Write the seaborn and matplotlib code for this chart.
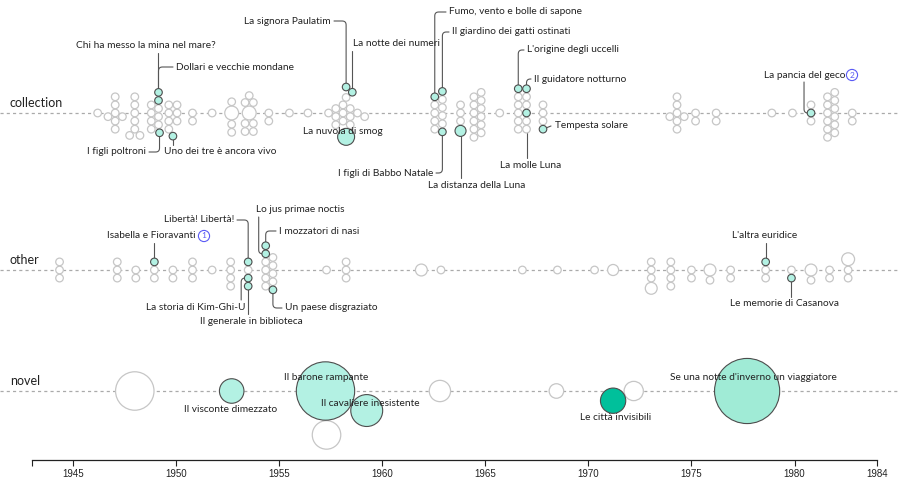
import numpy as np
import pandas as pd
import matplotlib
matplotlib.use("Agg")
import matplotlib.pyplot as plt
import seaborn as sns

# ---------------------------------------------------------------- data
# one entry per work: year (decimal), length (pages), title ('' = not highlighted)
collection_year = [
    1946.2,
    1947.05, 1947.05, 1947.05, 1947.05, 1947.05, 1946.7, 1947.4,
    1948.0, 1948.0, 1948.0, 1948.0, 1948.0, 1947.75, 1948.25,
    1948.8, 1948.8, 1948.8, 1948.8, 1949.15, 1949.15, 1949.15, 1949.2, 1949.15, 1949.15,
    1949.65, 1949.65, 1949.65, 1949.65, 1950.05, 1950.05, 1950.05, 1949.85,
    1950.8, 1950.8, 1951.75,
    1952.7, 1952.7, 1952.7, 1952.7,
    1953.55, 1953.35, 1953.35, 1953.35, 1953.75, 1953.75, 1953.75, 1953.55,
    1954.5, 1954.5, 1955.5, 1956.4,
    1957.4, 1957.75, 1957.75, 1957.75, 1958.1, 1958.1, 1958.1, 1958.45, 1958.45, 1958.45, 1958.8, 1959.15,
    1958.25, 1958.25, 1958.55, 1958.25,
    1962.55, 1962.55, 1962.55, 1962.55, 1962.92, 1962.92, 1962.92, 1962.92, 1962.92, 1962.92, 1962.55,
    1963.8, 1963.8, 1963.8, 1963.8,
    1964.45, 1964.8, 1964.45, 1964.8, 1964.45, 1964.8, 1964.45, 1964.8, 1964.45, 1964.8, 1964.45, 1964.8,
    1965.7,
    1967.0, 1966.6, 1966.6, 1966.6, 1966.6, 1966.6, 1967.0, 1967.0, 1967.0, 1967.0, 1967.0, 1966.6,
    1967.8, 1967.8, 1967.8, 1967.8,
    1974.3, 1974.3, 1974.3, 1974.3, 1974.3, 1973.95, 1974.65,
    1975.2, 1975.2, 1976.2, 1976.2, 1978.9, 1979.9,
    1980.8, 1980.8, 1980.8,
    1981.6, 1981.95, 1981.6, 1981.95, 1981.6, 1981.95, 1981.6, 1981.95, 1981.6, 1981.95, 1981.6, 1981.95,
    1982.8, 1982.8]
collection_length = [
    9,
    9, 9, 9, 9, 9, 9, 9,
    9, 9, 9, 9, 9, 9, 9,
    9, 9, 9, 9, 9, 9, 9, 9, 9, 9,
    9, 9, 9, 9, 9, 9, 9, 9,
    9, 9, 9,
    30, 9, 9, 9,
    30, 9, 9, 9, 9, 9, 9, 9,
    9, 9, 9, 9,
    9, 9, 9, 9, 9, 9, 9, 9, 9, 9, 9, 9,
    45, 9, 9, 9,
    9, 9, 9, 9, 9, 9, 9, 9, 9, 9, 9,
    9, 9, 9, 19,
    9, 9, 9, 9, 9, 9, 9, 9, 9, 9, 9, 9,
    9,
    9, 9, 9, 9, 9, 9, 9, 9, 9, 9, 9, 9,
    9, 9, 9, 9,
    9, 9, 9, 9, 9, 9, 9,
    9, 9, 9, 9, 9, 9,
    9, 9, 9,
    9, 9, 9, 9, 9, 9, 9, 9, 9, 9, 9, 9,
    9, 9]
collection_title = [
    "",
    "", "", "", "", "", "", "",
    "", "", "", "", "", "", "",
    "", "", "", "", "", "", "", "I figli poltroni", "Dollari e vecchie mondane", "Chi ha messo la mina nel mare?",
    "", "", "", "", "", "", "", "Uno dei tre è ancora vivo",
    "", "", "",
    "", "", "", "",
    "", "", "", "", "", "", "", "",
    "", "", "", "",
    "", "", "", "", "", "", "", "", "", "", "", "",
    "La nuvola di smog", "", "La notte dei numeri", "La signora Paulatim",
    "", "", "", "", "", "", "", "", "I figli di Babbo Natale", "Il giardino dei gatti ostinati",
    "Fumo, vento e bolle di sapone",
    "", "", "", "La distanza della Luna",
    "", "", "", "", "", "", "", "", "", "", "", "",
    "",
    "La molle Luna", "", "", "", "", "", "", "", "", "", "Il guidatore notturno", "L'origine degli uccelli",
    "", "", "", "Tempesta solare",
    "", "", "", "", "", "", "",
    "", "", "", "", "", "",
    "La pancia del geco", "", "",
    "", "", "", "", "", "", "", "", "", "", "", "",
    "", ""]

other_year = [
    1944.35, 1944.35, 1944.35,
    1947.15, 1947.15, 1947.15, 1948.05, 1948.05,
    1948.95, 1948.95, 1948.95,
    1949.85, 1949.85, 1950.8, 1950.8, 1950.8, 1951.75,
    1952.65, 1952.65, 1952.65, 1952.65,
    1953.5, 1953.5, 1953.5, 1953.5,
    1954.35, 1954.7, 1954.35, 1954.7, 1954.35, 1954.7, 1954.35, 1954.7, 1954.7, 1954.35, 1954.35,
    1957.3, 1958.25, 1958.25, 1958.25,
    1961.9, 1962.85, 1966.8, 1968.5, 1970.3,
    1971.2, 1973.05, 1973.05, 1973.05, 1973.05,
    1974.0, 1974.0, 1974.0, 1974.0, 1975.0, 1975.0, 1975.9, 1975.9, 1976.9, 1976.9,
    1978.6, 1978.6, 1978.6, 1979.85, 1979.85,
    1980.8, 1980.8, 1981.7, 1981.7, 1982.6, 1982.6, 1982.6]
other_length = [
    9, 9, 9,
    9, 9, 9, 9, 9,
    9, 9, 9,
    9, 9, 9, 9, 9, 9,
    9, 9, 9, 9,
    9, 9, 9, 9,
    9, 9, 9, 9, 9, 9, 9, 9, 9, 9, 9,
    9, 9, 9, 9,
    22, 9, 9, 9, 9,
    19, 9, 9, 9, 22,
    9, 9, 9, 9, 9, 9, 22, 9, 9, 9,
    9, 9, 9, 9, 9,
    22, 9, 9, 9, 9, 9, 26]
other_title = [
    "", "", "",
    "", "", "", "", "",
    "", "", "Isabella e Fioravanti",
    "", "", "", "", "", "",
    "", "", "", "",
    "", "La storia di Kim-Ghi-U", "Il generale in biblioteca", "Libertà! Libertà!",
    "", "", "", "", "", "", "", "", "Un paese disgraziato", "Lo jus primae noctis", "I mozzatori di nasi",
    "", "", "", "",
    "", "", "", "", "",
    "", "", "", "", "",
    "", "", "", "", "", "", "", "", "", "",
    "", "", "L'altra euridice", "", "Le memorie di Casanova",
    "", "", "", "", "", "", ""]

novel_year = [1948.0, 1952.7, 1957.25, 1959.25, 1957.3, 1962.8, 1968.45, 1972.2, 1971.2, 1977.7]
novel_length = [231, 94, 532, 159, 127, 71, 33, 58, 100, 663]
novel_title = ["", "Il visconte dimezzato", "Il barone rampante", "Il cavaliere inesistente",
               "", "", "", "", "Le città invisibili", "Se una notte d'inverno un viaggiatore"]

tick_years = [1943, 1945, 1950, 1955, 1960, 1965, 1970, 1975, 1980, 1984]
tick_labels = ["", "1945", "1950", "1955", "1960", "1965", "1970", "1975", "1980", "1984"]

# ---------------------------------------------------------------- layout (pixels)
X0, PXY = 31.7, 20.617            # pixel of 1943, pixels per year
ROW_Y = {"collection": 113, "other": 270, "novel": 391}
GAP = 0.5

def yr2px(y):
    return X0 + (y - 1943) * PXY

def px2yr(p):
    return 1943 + (p - X0) / PXY

def radius(s):
    return 1.265 * np.sqrt(s)

# label text position (px), alignment, leader style
labels = {
    "Chi ha messo la mina nel mare?": (146, 46, "center", "v"),
    "Dollari e vecchie mondane": (176, 67, "left", "h"),
    "I figli poltroni": (146, 152, "right", "h"),
    "Uno dei tre è ancora vivo": (164, 152, "left", "v"),
    "La signora Paulatim": (331, 21, "right", "h"),
    "La notte dei numeri": (353, 44, "left", "v"),
    "La nuvola di smog": (343, 132, "center", "none"),
    "Fumo, vento e bolle di sapone": (449, 12, "left", "h"),
    "Il giardino dei gatti ostinati": (452, 32, "left", "h"),
    "I figli di Babbo Natale": (433, 173, "right", "h"),
    "La distanza della Luna": (477, 185, "center", "v"),
    "L'origine degli uccelli": (527, 50, "left", "h"),
    "Il guidatore notturno": (534, 79, "left", "h"),
    "La molle Luna": (531, 165, "center", "v"),
    "Tempesta solare": (555, 126, "left", "side"),
    "La pancia del geco": (764, 75, "left", "hv"),
    "Isabella e Fioravanti": (151, 236, "center", "v"),
    "Libertà! Libertà!": (234, 220, "right", "h"),
    "Lo jus primae noctis": (256, 210, "left", "hv"),
    "I mozzatori di nasi": (279, 231, "left", "h"),
    "La storia di Kim-Ghi-U": (245, 307, "right", "hv"),
    "Il generale in biblioteca": (251, 321, "center", "v"),
    "Un paese disgraziato": (285, 308, "left", "h"),
    "L'altra euridice": (765, 236, "center", "v"),
    "Le memorie di Casanova": (785, 304, "center", "v"),
    "Il visconte dimezzato": (231, 410, "center", "none"),
    "Il barone rampante": (326, 377, "center", "none"),
    "Il cavaliere inesistente": (370, 403, "center", "none"),
    "Le città invisibili": (616, 417, "center", "none"),
    "Se una notte d'inverno un viaggiatore": (753, 378, "center", "none"),
}
fills = {"Le città invisibili": "#00c09b", "Se una notte d'inverno un viaggiatore": "#a0ebd6"}
HL = "#b3f1e3"


def swarm(years, sizes, titles, cy):
    # greedy beeswarm in pixel space; labelled works lean towards their label
    placed, out = [], []
    for yr, s, t in zip(years, sizes, titles):
        x, r = yr2px(yr), radius(s)
        pref = np.sign(labels[t][1] - cy) if t else 0
        cands = [0.0]
        for px, py, pr in placed:
            d = r + pr + GAP
            dx = x - px
            if abs(dx) < d:
                h = np.sqrt(d * d - dx * dx)
                cands += [py + h, py - h]

        def cost(c):
            pen = 1000 if (pref != 0 and c * pref < -1e-9) else 0
            return abs(c) + pen + (0.001 if c < 0 else 0)

        best = 0.0
        for c in sorted(set(cands), key=cost):
            if all((x - px) ** 2 + (c - py) ** 2 >= (r + pr + GAP) ** 2 - 1e-6 for px, py, pr in placed):
                best = c
                break
        placed.append((x, best, r))
        out.append(dict(x=yr, y=cy + best, xp=x, r=r, s=(2 * r * 0.72) ** 2, title=t))
    return out

pts = []
pts += swarm(collection_year, collection_length, collection_title, ROW_Y["collection"])
pts += swarm(other_year, other_length, other_title, ROW_Y["other"])
pts += swarm(novel_year, novel_length, novel_title, ROW_Y["novel"])
df = pd.DataFrame(pts)
df["fill"] = [fills.get(t, HL) for t in df.title]
plain = df[df.title == ""]
hl = df[df.title != ""]

# ---------------------------------------------------------------- plot
sns.set_style("white")
plt.rcParams["font.family"] = ["Lato", "DejaVu Sans"]

fig = plt.figure(figsize=(9, 4.96), dpi=100)
ax = fig.add_axes([0, 36 / 496, 1, 460 / 496])

for name, y in ROW_Y.items():
    ax.axhline(y, color="#aaaaaa", lw=0.9, ls=(0, (2.5, 2.5)), zorder=0)
    ax.text(px2yr(10), y - 10, name, ha="left", va="center", fontsize=9, color="#222222")

sns.scatterplot(data=plain, x="x", y="y", s=plain["s"].values, color="white",
                edgecolor="#c6c6c6", linewidth=0.9, legend=False, ax=ax, zorder=3)
sns.scatterplot(data=hl, x="x", y="y", hue="fill", palette={c: c for c in hl["fill"].unique()},
                s=hl["s"].values, edgecolor="#4d4d4d", linewidth=0.8, legend=False, ax=ax, zorder=4)


def rounded(p0, c, p1, r=4):
    p0, c, p1 = np.array(p0, float), np.array(c, float), np.array(p1, float)
    d0, d1 = p0 - c, p1 - c
    n0, n1 = np.linalg.norm(d0), np.linalg.norm(d1)
    if n0 < 1e-6 or n1 < 1e-6:
        return np.array([p0, p1])
    r = min(r, n0, n1)
    a, b = c + d0 / n0 * r, c + d1 / n1 * r
    t = np.linspace(0, 1, 8)[:, None]
    curve = (1 - t) ** 2 * a + 2 * (1 - t) * t * c + t ** 2 * b
    return np.vstack([p0, curve, p1])


for _, p in hl.iterrows():
    tx, ty, ha, mode = labels[p.title]
    cx, cy = p.xp, p.y
    path = None
    if mode == "h":
        end = tx + 3 if ha == "right" else tx - 3
        path = rounded((cx, cy), (cx, ty), (end, ty))
    elif mode == "v":
        end = ty + 7 if ty < cy else ty - 7
        path = np.array([(cx, cy), (cx, end)])
    elif mode == "side":
        path = np.array([(cx, cy), (tx - 4, ty)])
    elif mode == "hv":
        lx = cx - 7
        start = ty + 7 if ty < cy else ty - 7
        path = rounded((lx, start), (lx, cy), (cx, cy))
    if path is not None:
        ax.plot(px2yr(path[:, 0]), path[:, 1], color="#555555", lw=0.8, zorder=2)
    ax.text(px2yr(tx), ty, p.title, ha=ha, va="center", fontsize=7.3, color="#222222", zorder=6)

# circled footnote markers
for num, (x, y) in {"1": (204, 236), "2": (852, 75)}.items():
    ax.text(px2yr(x), y, num, ha="center", va="center", fontsize=6, color="#5a5af5",
            bbox=dict(boxstyle="circle,pad=0.25", fc="white", ec="#5a5af5", lw=0.8), zorder=6)

ax.set_xlim(px2yr(0), px2yr(900))
ax.set_ylim(460, 0)
ax.set_xlabel("")
ax.set_ylabel("")
ax.set_yticks([])
ax.set_xticks(tick_years)
ax.set_xticklabels(tick_labels, family=["Liberation Sans", "DejaVu Sans"])
ax.tick_params(axis="x", direction="out", length=4.5, width=0.8, labelsize=7,
               colors="#222222", pad=2, bottom=True)
for side in ["left", "right", "top"]:
    ax.spines[side].set_visible(False)
ax.spines["bottom"].set_bounds(1943, 1984)
ax.spines["bottom"].set_color("#222222")
ax.spines["bottom"].set_linewidth(0.9)
ax.patch.set_alpha(0)

fig.savefig("out.png", dpi=100)
